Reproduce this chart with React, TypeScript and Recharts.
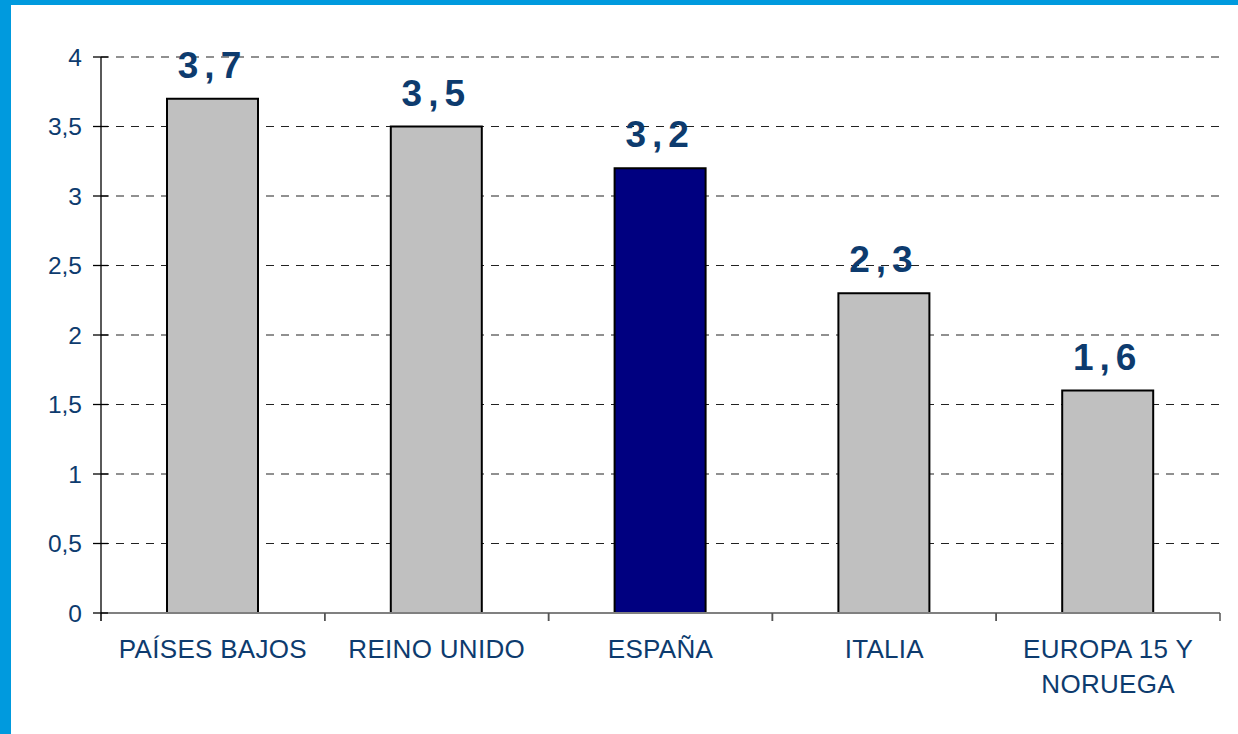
import React from "react";
import { BarChart, Bar, XAxis, YAxis, CartesianGrid, Cell, LabelList } from "recharts";

const categories = ["PAÍSES BAJOS", "REINO UNIDO", "ESPAÑA", "ITALIA", "EUROPA 15 Y NORUEGA"];
const values = [3.7, 3.5, 3.2, 2.3, 1.6];
const tickLabelLines = [["PAÍSES BAJOS"], ["REINO UNIDO"], ["ESPAÑA"], ["ITALIA"], ["EUROPA 15 Y", "NORUEGA"]];
const yTicks = [0, 0.5, 1, 1.5, 2, 2.5, 3, 3.5, 4];
const highlight = "ESPAÑA";

const data = categories.map((c, i) => ({ name: c, value: values[i] }));

const W = 1238;
const H = 734;
const M = { top: 57, right: 18, bottom: 61, left: 0 };
const Y_W = 101;
const X_H = 60;
const PLOT_LEFT = M.left + Y_W;
const PLOT_BOTTOM = H - M.bottom - X_H;
const BAND = (W - M.right - PLOT_LEFT) / categories.length;
const TEXT = "#0D3B6E";
const fmt = (v: number) => String(v).replace(".", ",");

const XTick = (props: any) => {
  const { x, payload } = props;
  const idx = categories.indexOf(payload.value);
  const lines = tickLabelLines[idx] || [payload.value];
  return (
    <g>
      <line x1={x - BAND / 2} x2={x - BAND / 2} y1={PLOT_BOTTOM} y2={PLOT_BOTTOM + 8} stroke={idx === 0 ? "#000" : "#555"} strokeWidth={1.5} />
      <line x1={x + BAND / 2} x2={x + BAND / 2} y1={PLOT_BOTTOM} y2={PLOT_BOTTOM + 8} stroke="#555" strokeWidth={1.5} />
      {lines.map((l: string, i: number) => (
        <text key={i} x={x} y={PLOT_BOTTOM + 45 + i * 35} textAnchor="middle" fill={TEXT} fontSize={26} letterSpacing={0.3} fontFamily="Liberation Sans, Arial, sans-serif">
          {l}
        </text>
      ))}
    </g>
  );
};

const YTick = (props: any) => {
  const { y, payload } = props;
  return (
    <g>
      <line x1={PLOT_LEFT - 8} x2={PLOT_LEFT + 7} y1={y} y2={y} stroke="#000" strokeWidth={1.3} />
      <text x={PLOT_LEFT - 19} y={y + 8.5} textAnchor="end" fill={TEXT} fontSize={24.5} fontFamily="Liberation Sans, Arial, sans-serif">
        {fmt(payload.value)}
      </text>
    </g>
  );
};

const ValueLabel = (props: any) => {
  const { x, y, width, value } = props;
  return (
    <text x={x + width / 2} y={y - 21} textAnchor="middle" fill={TEXT} fontSize={37} fontWeight="bold" letterSpacing={6} fontFamily="Liberation Sans, Arial, sans-serif">
      {fmt(value)}
    </text>
  );
};

export default function App() {
  return (
    <div style={{ position: "absolute", left: 0, top: 0, width: W, height: H, background: "#fff", overflow: "hidden" }}>
      <div style={{ position: "absolute", left: 0, top: 0, width: 11, height: H, background: "#009ADE" }} />
      <div style={{ position: "absolute", left: 0, top: 0, width: W, height: 5, background: "#009ADE" }} />
      <div style={{ position: "absolute", left: 0, top: 0 }}>
        <BarChart width={W} height={H} data={data} margin={M}>
          <CartesianGrid vertical={false} strokeDasharray="8 7" stroke="#222" strokeWidth={1.2} />
          <XAxis dataKey="name" height={X_H} tickLine={false} axisLine={{ stroke: "#808080", strokeWidth: 2 }} tick={<XTick />} interval={0} />
          <YAxis width={Y_W} domain={[0, 4]} ticks={yTicks} tickLine={false} axisLine={{ stroke: "#000", strokeWidth: 1.3 }} tick={<YTick />} interval={0} />
          <Bar dataKey="value" barSize={91} stroke="#000" strokeWidth={2} isAnimationActive={false}>
            {data.map((d, i) => (
              <Cell key={i} fill={d.name === highlight ? "#000080" : "#C0C0C0"} />
            ))}
            <LabelList dataKey="value" content={<ValueLabel />} />
          </Bar>
        </BarChart>
      </div>
    </div>
  );
}
